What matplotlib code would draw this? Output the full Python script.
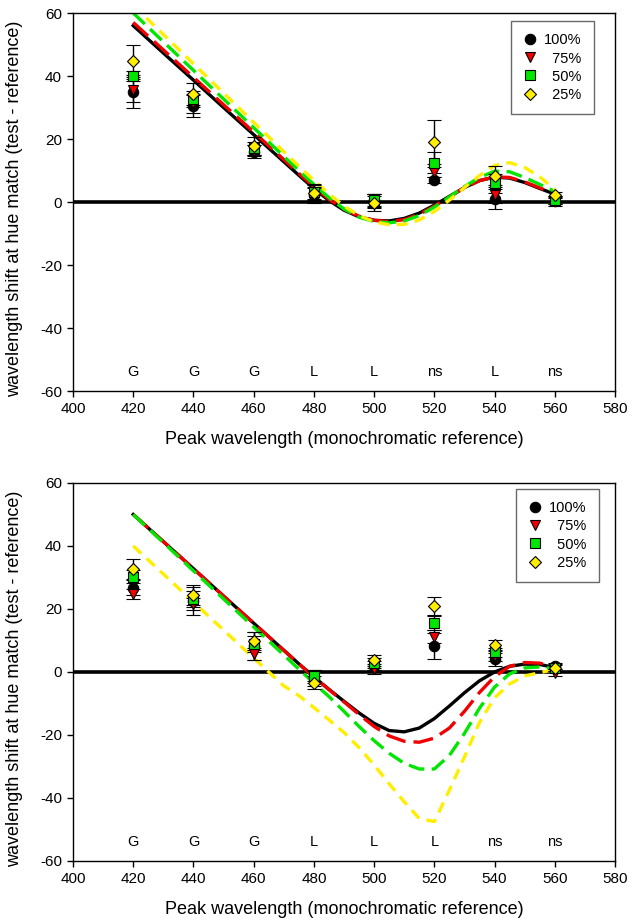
import numpy as np
import matplotlib
matplotlib.use("Agg")
import matplotlib.pyplot as plt
from matplotlib.lines import Line2D

plt.rcParams['font.family'] = ['Liberation Sans', 'DejaVu Sans']
plt.rcParams['axes.unicode_minus'] = False

# reference wavelengths (nm) of the measured points
wl = [420, 440, 460, 480, 500, 520, 540, 560]
levels = ['100%', '75%', '50%', '25%']

# upper panel: mean shift and error for each contrast level
top_y = {
    '100%': [35.0, 30.5, 16.0, 2.2, 0.5, 7.0, 0.9, 0.3],
    '75%': [35.5, 31.3, 16.3, 2.5, 0.0, 9.5, 2.2, 0.5],
    '50%': [40.0, 32.6, 17.0, 3.2, 0.6, 12.5, 5.9, 0.6],
    '25%': [44.8, 34.2, 17.8, 3.0, -0.2, 19.1, 8.4, 2.2],
}
top_err = {
    '100%': [5.3, 3.4, 2.1, 2.5, 2.0, 1.0, 3.1, 1.5],
    '75%': [3.7, 3.0, 1.8, 2.0, 2.0, 1.5, 2.5, 1.2],
    '50%': [1.5, 2.5, 2.0, 2.2, 2.0, 3.3, 3.0, 1.2],
    '25%': [5.0, 3.5, 2.9, 2.6, 2.6, 7.0, 3.1, 1.0],
}
top_sig = ['G', 'G', 'G', 'L', 'L', 'ns', 'L', 'ns']

# lower panel
bot_y = {
    '100%': [26.8, 22.6, 8.3, -2.0, 2.0, 8.3, 4.0, 1.9],
    '75%': [24.8, 21.6, 5.7, -1.5, 0.9, 11.2, 5.1, -0.2],
    '50%': [30.3, 23.2, 8.9, -1.3, 2.8, 15.7, 6.2, 1.2],
    '25%': [32.8, 24.5, 9.9, -3.4, 3.7, 20.8, 8.6, 1.4],
}
bot_err = {
    '100%': [2.5, 4.4, 4.5, 2.5, 1.5, 4.1, 2.1, 1.0],
    '75%': [1.6, 2.0, 2.0, 2.0, 1.5, 2.0, 1.5, 1.0],
    '50%': [2.0, 2.5, 2.5, 1.5, 1.5, 2.3, 1.5, 1.0],
    '25%': [3.2, 3.2, 2.8, 2.0, 1.7, 2.9, 1.6, 1.0],
}
bot_sig = ['G', 'G', 'G', 'L', 'L', 'L', 'ns', 'ns']

# model predictions
fit_wl = [420, 430, 440, 450, 460, 470, 475, 480, 485, 490, 495, 500,
          505, 510, 515, 520, 525, 530, 535, 540, 545, 550, 555, 560]
top_fit = {
    '100%': [56.0, 47.3, 38.7, 30.0, 21.4, 12.8, 8.5, 4.3, 0.5, -2.6, -4.7, -5.8,
             -6.0, -5.2, -3.5, -1.0, 1.8, 4.6, 6.8, 7.9, 7.6, 6.2, 4.3, 2.5],
    '75%': [57.0, 48.3, 39.6, 30.9, 22.2, 13.5, 9.1, 4.8, 0.9, -2.3, -4.5, -5.8,
            -6.2, -5.6, -3.9, -1.3, 1.6, 4.5, 6.8, 8.0, 7.8, 6.4, 4.5, 2.6],
    '50%': [60.0, 50.9, 41.8, 32.7, 23.6, 14.5, 10.0, 5.6, 1.4, -2.2, -4.8, -6.2,
            -6.6, -6.0, -4.3, -1.6, 1.6, 4.9, 7.8, 9.8, 9.6, 7.8, 5.6, 3.4],
    '25%': [62.5, 53.2, 43.9, 34.6, 25.3, 16.0, 11.4, 6.9, 2.6, -1.3, -4.3, -6.3,
            -7.2, -7.1, -5.7, -3.0, 0.6, 4.6, 8.4, 11.6, 12.5, 11.0, 8.0, 4.0],
}
bot_fit = {
    '100%': [50.0, 41.4, 32.8, 24.1, 15.5, 6.9, 2.6, -1.6, -5.5, -9.3, -13.0, -16.3,
             -18.6, -19.0, -17.8, -14.8, -10.8, -6.6, -2.8, 0.0, 1.8, 2.5, 2.4, 1.4],
    '75%': [50.0, 41.4, 32.8, 24.1, 15.5, 6.9, 2.6, -1.6, -5.6, -9.5, -13.5, -17.3,
            -20.3, -22.0, -22.3, -21.0, -17.8, -12.5, -6.5, -1.5, 1.8, 3.0, 2.8, 1.6],
    '50%': [50.0, 41.1, 32.1, 23.2, 14.3, 5.4, 0.9, -3.5, -7.8, -12.5, -17.3, -21.8,
            -25.8, -29.0, -30.8, -30.8, -26.5, -19.5, -11.5, -4.8, -0.6, 1.3, 1.6, 1.0],
    '25%': [40.0, 31.1, 22.2, 13.3, 4.4, -4.4, -7.5, -11.3, -15.2, -19.2, -24.0, -29.5,
            -35.5, -41.2, -46.5, -47.5, -37.5, -27.0, -16.0, -8.2, -3.8, -1.3, -0.2, 0.8],
}

colors = {'100%': 'black', '75%': '#f00000', '50%': '#00e600', '25%': '#ffee00'}
markers = {'100%': 'o', '75%': 'v', '50%': 's', '25%': 'D'}
msize = {'100%': 7.5, '75%': 7.5, '50%': 6.5, '25%': 6.5}
dashes = {'100%': None, '75%': (6, 2.4), '50%': (4.8, 2.2), '25%': (3.3, 2.2)}
# one figure space keeps the percent signs lined up on the right
names = {'100%': '100%', '75%': '\u200775%', '50%': '\u200750%', '25%': '\u200725%'}

fig = plt.figure(figsize=(6.32, 9.24), dpi=100)
ax1 = fig.add_axes([0.1155, 0.5768, 0.8576, 0.4091])
ax2 = fig.add_axes([0.1155, 0.0682, 0.8576, 0.4091])


def draw_panel(ax, ys, errs, fits, sig, leg_anchor):
    ax.axhline(0, color='black', lw=2.6, zorder=1)
    for lev in levels:
        if dashes[lev] is None:
            ax.plot(fit_wl, fits[lev], color=colors[lev], lw=2.4, zorder=2)
        else:
            ax.plot(fit_wl, fits[lev], color=colors[lev], lw=2.4,
                    dashes=dashes[lev], zorder=2)
    for lev in levels:
        ax.errorbar(wl, ys[lev], yerr=errs[lev], fmt=markers[lev],
                    ms=msize[lev], mfc=colors[lev], mec='black', mew=0.8,
                    ecolor='black', elinewidth=1, capsize=5, capthick=1,
                    zorder=3)
    for w, s in zip(wl, sig):
        ax.text(w, -54, s, ha='center', va='center', fontsize=10.5)
    ax.set_xlim(400, 580)
    ax.set_ylim(-60, 60)
    ax.set_xticks(np.arange(400, 581, 20))
    ax.set_yticks(np.arange(-60, 61, 20))
    ax.tick_params(labelsize=11, direction='out', length=4, width=1, pad=4)
    for sp in ax.spines.values():
        sp.set_linewidth(1)
    ax.set_xlabel('Peak wavelength (monochromatic reference)', fontsize=13, labelpad=11)
    ax.set_ylabel('wavelength shift at hue match (test - reference)', fontsize=13)
    ax.yaxis.set_label_coords(-0.092, 0.481)

    handles = [Line2D([], [], ls='none', marker=markers[lev], ms=msize[lev],
                      mfc=colors[lev], mec='black', mew=0.8) for lev in levels]
    leg = ax.legend(handles, [names[lev] for lev in levels], loc='upper right',
                    bbox_to_anchor=leg_anchor, fontsize=10.5, frameon=True,
                    fancybox=False, edgecolor='#444444', borderaxespad=0,
                    handlelength=0.8, handletextpad=0.6, labelspacing=0.28,
                    borderpad=0.85)
    leg.get_frame().set_linewidth(1)


draw_panel(ax1, top_y, top_err, top_fit, top_sig, (1 - 21 / 542, 1 - 8 / 378))
draw_panel(ax2, bot_y, bot_err, bot_fit, bot_sig, (1 - 16 / 542, 1 - 6 / 378))

fig.savefig('out.png', dpi=100)
